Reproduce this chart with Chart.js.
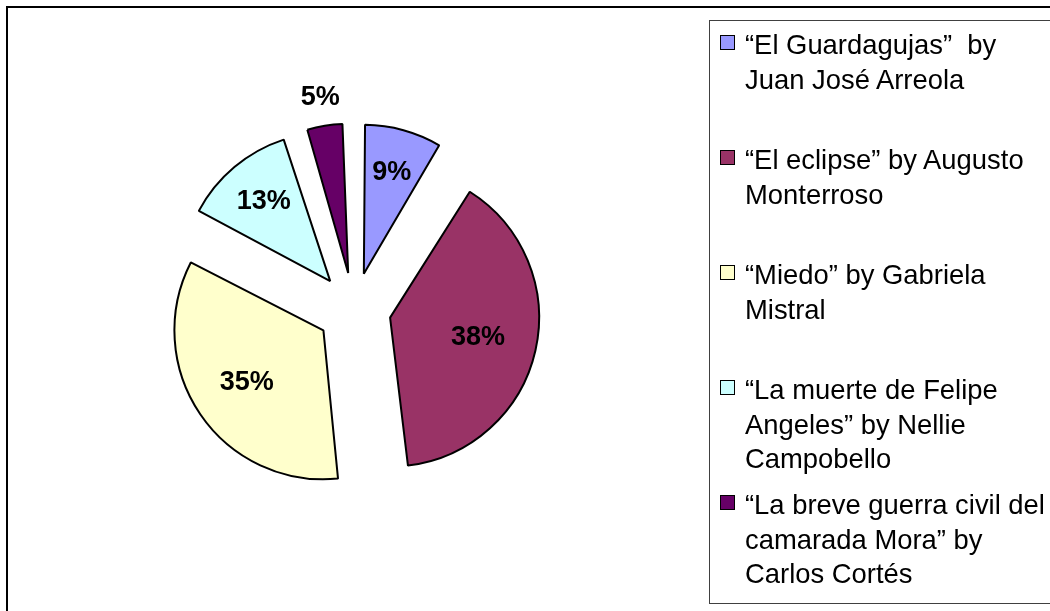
<!DOCTYPE html>
<html>
<head>
<meta charset="utf-8">
<script src="https://cdn.jsdelivr.net/npm/chart.js@4/dist/chart.umd.min.js"></script>
<style>
    html, body { margin: 0; padding: 0; background: #fff; overflow: hidden; }
    #wrap { position: relative; width: 1050px; height: 611px; }
    #frame {
        position: absolute; left: 6px; top: 6px;
        width: 1100px; height: 700px;
        border: 2px solid #000;
    }
    #chart { position: absolute; left: 0; top: 0; }
    #legend {
        position: absolute; left: 709px; top: 20px;
        width: 400px; height: 582px;
        border: 1px solid #404040;
        font-family: "Liberation Sans", Arial, sans-serif;
        font-size: 27.4px; line-height: 34.5px; color: #000;
    }
    .item { position: absolute; left: 35px; width: 330px; }
    .box {
        position: absolute; left: -25px; top: 7px;
        width: 13px; height: 13px; border: 1px solid #000;
    }
</style>
</head>
<body>
<div id="wrap">
    <div id="frame"></div>
    <canvas id="chart" width="1050" height="611"></canvas>
    <div id="legend"></div>
</div>
<script>
// Stories (legend lines as they wrap in the picture)
const stories = [
    ['\u201cEl Guardagujas\u201d\u00a0 by', 'Juan Jos\u00e9 Arreola'],
    ['\u201cEl eclipse\u201d by Augusto', 'Monterroso'],
    ['\u201cMiedo\u201d by Gabriela', 'Mistral'],
    ['\u201cLa muerte de Felipe', 'Angeles\u201d by Nellie', 'Campobello'],
    ['\u201cLa breve guerra civil del', 'camarada Mora\u201d by', 'Carlos Cort\u00e9s']
];
const shares = [8.9, 39.6, 34.3, 12.5, 4.7];
// Percent labels as printed on the chart
const pctText = ['9%', '38%', '35%', '13%', '5%'];
const sliceColors = ['#9999FF', '#993366', '#FFFFCC', '#CCFFFF', '#660066'];

const EXPLODE = 37;      // px each slice is pulled out
const RADIUS = 149;

// keep every slice the same radius (arc draw grows small slices a bit)
const evenRadius = {
    id: 'evenRadius',
    afterDatasetUpdate(chart, args) {
        args.meta.data.forEach(arc => {
            const off = (arc.options.offset || 0) / 4;
            const fix = 1 - Math.sin(Math.min(Math.PI, arc.circumference));
            arc.outerRadius = RADIUS - off * fix;
        });
    }
};

// percent labels, inside the slice (or just outside for tiny ones)
const pctLabels = {
    id: 'pctLabels',
    afterDatasetsDraw(chart) {
        const ctx = chart.ctx;
        const meta = chart.getDatasetMeta(0);
        const total = shares.reduce((a, b) => a + b, 0);
        ctx.save();
        ctx.font = 'bold 27px "Liberation Sans", Arial, sans-serif';
        ctx.fillStyle = '#000';
        ctx.textAlign = 'center';
        ctx.textBaseline = 'middle';
        meta.data.forEach((arc, i) => {
            const mid = (arc.startAngle + arc.endAngle) / 2;
            const frac = shares[i] / total;
            const k = frac < 0.06 ? 1.19 : 0.735 - 0.33 * frac;
            const d = EXPLODE + RADIUS * k;
            ctx.fillText(pctText[i], arc.x + Math.cos(mid) * d, arc.y + Math.sin(mid) * d);
        });
        ctx.restore();
    }
};

const chart = new Chart(document.getElementById('chart'), {
    type: 'pie',
    data: {
        labels: stories,
        datasets: [{
            data: shares,
            backgroundColor: sliceColors,
            borderColor: '#000',
            borderWidth: 2,
            offset: EXPLODE * 4,
            hoverOffset: 0
        }]
    },
    options: {
        responsive: false,
        animation: false,
        radius: RADIUS,
        rotation: -0.6,
        layout: { padding: { left: 20, right: 362, top: 20, bottom: 12 } },
        plugins: {
            legend: { display: false },
            tooltip: { enabled: false }
        }
    },
    plugins: [evenRadius, pctLabels]
});

// legend built from the same arrays
const legend = document.getElementById('legend');
stories.forEach((lines, i) => {
    const item = document.createElement('div');
    item.className = 'item';
    item.style.top = (7 + i * 115) + 'px';
    const box = document.createElement('span');
    box.className = 'box';
    box.style.background = sliceColors[i];
    item.appendChild(box);
    lines.forEach(line => {
        const row = document.createElement('div');
        row.style.whiteSpace = 'nowrap';
        row.textContent = line;
        item.appendChild(row);
    });
    legend.appendChild(item);
});
</script>
</body>
</html>
